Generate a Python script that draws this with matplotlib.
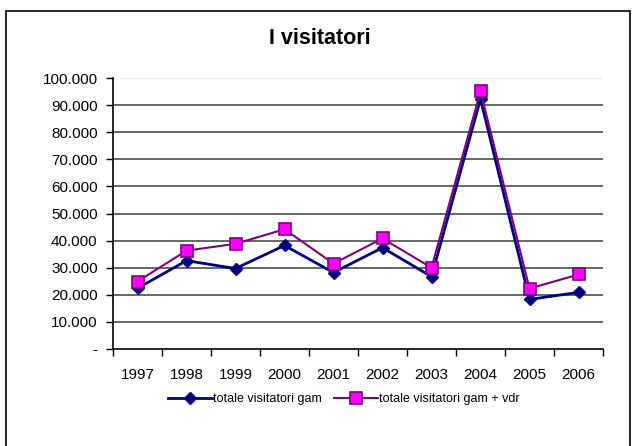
import matplotlib
matplotlib.use("Agg")
import matplotlib.pyplot as plt
from matplotlib.patches import Rectangle
from matplotlib.ticker import FuncFormatter, FixedLocator

years = ["1997", "1998", "1999", "2000", "2001", "2002", "2003", "2004", "2005", "2006"]
gam = [22400, 32600, 29700, 38200, 28200, 37400, 26700, 92200, 18300, 20900]
gam_vdr = [24900, 36300, 38800, 44200, 31500, 40800, 30000, 95100, 22300, 27500]

plt.rcParams["font.family"] = ["Liberation Sans", "DejaVu Sans"]

fig = plt.figure(figsize=(6.36, 4.46), dpi=100)
ax = fig.add_axes([113 / 636, 1 - 349 / 446, 490 / 636, 271 / 446])

# outer chart frame
fig.patches.append(Rectangle((6 / 636, -0.05), 624 / 636, 1.05 - 11 / 446,
                             transform=fig.transFigure, fill=False,
                             edgecolor="black", linewidth=1.2))

x = list(range(len(years)))
ax.plot(x, gam, color="#000080", linewidth=2, marker="D", markersize=6.5,
        markerfacecolor="#000080", markeredgecolor="#000080",
        label="totale visitatori gam", zorder=3)
ax.plot(x, gam_vdr, color="#800080", linewidth=1.5, marker="s", markersize=8.5,
        markerfacecolor="#FF00FF", markeredgecolor="#800080", markeredgewidth=1.2,
        label="totale visitatori gam + vdr", zorder=4)

ax.set_xlim(-0.5, len(years) - 0.5)
ax.set_ylim(0, 100000)
ax.set_yticks(range(0, 100001, 10000))
ax.yaxis.set_major_formatter(FuncFormatter(
    lambda v, p: "-" if v == 0 else f"{int(v):,}".replace(",", ".")))
ax.xaxis.set_major_locator(FixedLocator([i - 0.5 for i in range(len(years) + 1)]))
ax.xaxis.set_minor_locator(FixedLocator(x))
ax.set_xticklabels([])
ax.set_xticklabels(years, minor=True)
ax.tick_params(axis="x", which="major", direction="out", length=5, width=1)
ax.tick_params(axis="x", which="minor", length=0, pad=14, labelsize=11)
ax.tick_params(axis="y", direction="out", length=5, width=1, labelsize=11, pad=6)

for v in range(10000, 100000, 10000):
    ax.axhline(v, color="#5a5a5a", linewidth=1.3, zorder=0)
ax.axhline(100000, color="#f0f0f0", linewidth=1, zorder=0)
for s in ["top", "right"]:
    ax.spines[s].set_visible(False)
for s in ["left", "bottom"]:
    ax.spines[s].set_linewidth(1.2)

fig.text(320 / 636, 1 - 38 / 446, "I visitatori", ha="center", va="center",
         fontsize=15.5, fontweight="bold")

fig.legend(loc="center", bbox_to_anchor=(344 / 636, 1 - 399 / 446), ncol=2,
           frameon=False, fontsize=9, handlelength=3.5, handletextpad=0.1,
           columnspacing=1.0)

fig.savefig("out.png", dpi=100)
